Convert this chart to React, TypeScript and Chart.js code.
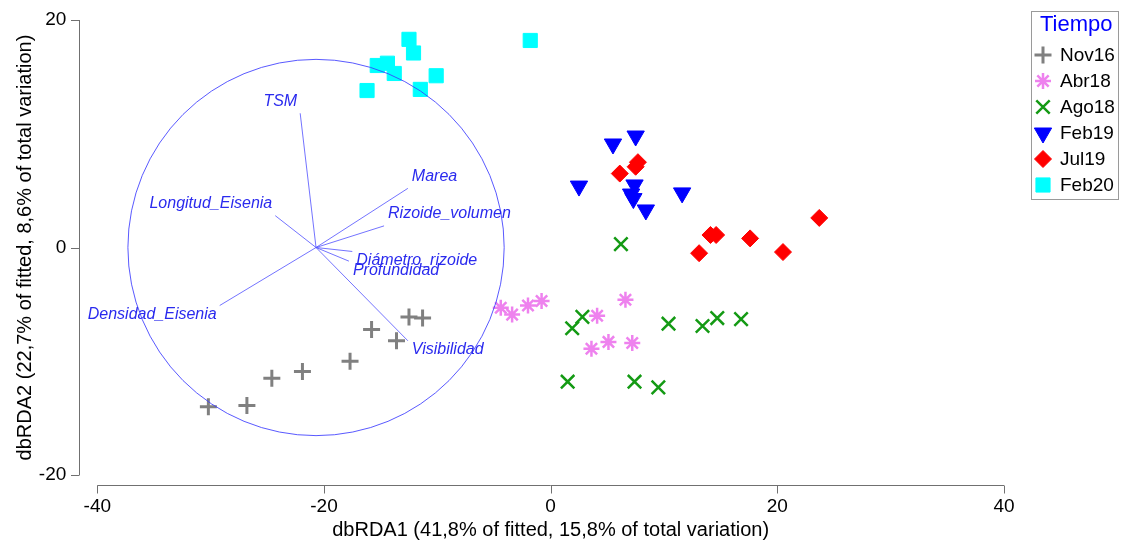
import React, { useEffect, useRef } from 'react';
import { Chart, registerables } from 'chart.js';
import { drawPoint } from 'chart.js/helpers';

Chart.register(...registerables);

// ---- Data ----
const groups = ['Nov16', 'Abr18', 'Ago18', 'Feb19', 'Jul19', 'Feb20'];

const nov16X = [-30.2, -26.8, -24.6, -21.9, -17.7, -15.8, -13.6, -12.5, -11.3];
const nov16Y = [-14.0, -13.9, -11.5, -10.9, -10.0, -7.2, -8.2, -6.1, -6.2];

const abr18X = [-4.4, -3.4, -2.0, -0.8, 4.1, 6.6, 3.6, 5.1, 7.2];
const abr18Y = [-5.3, -5.9, -5.1, -4.7, -6.0, -4.6, -8.9, -8.3, -8.4];

const ago18X = [6.2, 1.9, 2.8, 10.4, 13.4, 14.7, 16.8, 1.5, 7.4, 9.5];
const ago18Y = [0.3, -7.1, -6.1, -6.7, -6.9, -6.2, -6.3, -11.8, -11.8, -12.3];

const feb19X = [5.5, 7.5, 2.5, 7.4, 7.1, 7.3, 8.4, 11.6];
const feb19Y = [9.1, 9.8, 5.4, 5.5, 4.7, 4.3, 3.3, 4.8];

const jul19X = [6.1, 7.5, 7.7, 13.1, 14.1, 14.6, 17.6, 20.5, 23.7];
const jul19Y = [6.5, 7.1, 7.5, -0.5, 1.1, 1.1, 0.8, -0.4, 2.6];

const feb20X = [-16.2, -15.3, -14.4, -13.8, -12.5, -12.1, -11.5, -10.1, -1.8];
const feb20Y = [13.8, 16.0, 16.2, 15.3, 18.3, 17.1, 13.9, 15.1, 18.2];

const groupX = [nov16X, abr18X, ago18X, feb19X, jul19X, feb20X];
const groupY = [nov16Y, abr18Y, ago18Y, feb19Y, jul19Y, feb20Y];

const vectorNames = [
  'TSM',
  'Marea',
  'Rizoide_volumen',
  'Longitud_Eisenia',
  'Diámetro_rizoide',
  'Profundidad',
  'Densidad_Eisenia',
  'Visibilidad',
];
const vectorX = [-22.1, -12.6, -14.7, -24.3, -17.5, -17.8, -29.2, -12.6];
const vectorY = [11.8, 5.2, 1.9, 2.8, -0.35, -1.2, -5.1, -8.2];
const vectorOrigin = [-20.7, 0];
const circleRadius = 16.6;

const xTicks = [-40, -20, 0, 20, 40];
const yTicks = [-20, 0, 20];
const xTitle = 'dbRDA1 (41,8% of fitted, 15,8% of total variation)';
const yTitle = 'dbRDA2 (22,7% of fitted, 8,6% of total variation)';
const legendTitle = 'Tiempo';

// ---- Styles ----
const FONT = '"Liberation Sans", Arial, sans-serif';
const groupStyles = [
  { pointStyle: 'cross', color: '#808080', radius: 8.5, borderWidth: 3, rotation: 0 },
  { pointStyle: 'star', color: '#EE82EE', radius: 8, borderWidth: 2.5, rotation: 0 },
  { pointStyle: 'crossRot', color: '#149a14', radius: 9.5, borderWidth: 2.5, rotation: 0 },
  { pointStyle: 'triangle', color: '#0000FF', radius: 10, borderWidth: 1, rotation: 180 },
  { pointStyle: 'rectRot', color: '#FF0000', radius: 8.5, borderWidth: 1, rotation: 0 },
  { pointStyle: 'rect', color: '#00FFFF', radius: 10, borderWidth: 1, rotation: 0 },
];

const axisColor = '#707070';

const axesPlugin = {
  id: 'detachedAxes',
  afterDraw(chart: any) {
    const { ctx, scales } = chart;
    const xs = scales.x;
    const ys = scales.y;
    const axisY = chart.chartArea.bottom + 10.5;
    const axisX = chart.chartArea.left - 17.8;
    ctx.save();
    ctx.strokeStyle = axisColor;
    ctx.lineWidth = 1;
    ctx.beginPath();
    ctx.moveTo(xs.getPixelForValue(xTicks[0]), axisY);
    ctx.lineTo(xs.getPixelForValue(xTicks[xTicks.length - 1]), axisY);
    xTicks.forEach((v) => {
      const px = Math.round(xs.getPixelForValue(v)) + 0.5;
      ctx.moveTo(px, axisY);
      ctx.lineTo(px, axisY + 8);
    });
    ctx.moveTo(axisX, ys.getPixelForValue(yTicks[0]));
    ctx.lineTo(axisX, ys.getPixelForValue(yTicks[yTicks.length - 1]));
    yTicks.forEach((v) => {
      const py = Math.round(ys.getPixelForValue(v)) + 0.5;
      ctx.moveTo(axisX, py);
      ctx.lineTo(axisX - 8.5, py);
    });
    ctx.stroke();
    ctx.restore();
  },
};

const biplotPlugin = {
  id: 'biplot',
  afterDatasetsDraw(chart: any) {
    const { ctx, scales } = chart;
    const xs = scales.x;
    const ys = scales.y;
    const ox = xs.getPixelForValue(vectorOrigin[0]);
    const oy = ys.getPixelForValue(vectorOrigin[1]);
    const r = xs.getPixelForValue(vectorOrigin[0] + circleRadius) - ox;
    ctx.save();
    ctx.strokeStyle = 'rgba(60,60,255,0.85)';
    ctx.lineWidth = 1;
    ctx.beginPath();
    ctx.arc(ox, oy, r, 0, Math.PI * 2);
    ctx.stroke();

    ctx.strokeStyle = 'rgba(80,80,255,0.8)';
    vectorNames.forEach((_, i) => {
      const ex = xs.getPixelForValue(vectorX[i]);
      const ey = ys.getPixelForValue(vectorY[i]);
      ctx.beginPath();
      ctx.moveTo(ox, oy);
      ctx.lineTo(ex, ey);
      ctx.stroke();
    });

    ctx.fillStyle = '#2a2aee';
    ctx.font = `italic 16px ${FONT}`;
    ctx.textBaseline = 'middle';
    vectorNames.forEach((name, i) => {
      const ex = xs.getPixelForValue(vectorX[i]);
      const ey = ys.getPixelForValue(vectorY[i]);
      const dx = vectorX[i] - vectorOrigin[0];
      const dy = vectorY[i] - vectorOrigin[1];
      ctx.textAlign = dx < 0 ? 'right' : 'left';
      const tx = ex + (dx < 0 ? -3 : 4);
      const ty = ey + (dy > 0 ? -12 : 9);
      ctx.fillText(name, tx, ty);
    });
    ctx.restore();
  },
};

const legendPlugin = {
  id: 'legendBox',
  afterDraw(chart: any) {
    const { ctx } = chart;
    const left = 1031.5;
    const top = 11.5;
    const w = 87;
    const h = 188;
    ctx.save();
    ctx.strokeStyle = '#9a9a9a';
    ctx.lineWidth = 1;
    ctx.strokeRect(left, top, w, h);
    ctx.fillStyle = '#0000FF';
    ctx.font = `22px ${FONT}`;
    ctx.textAlign = 'left';
    ctx.textBaseline = 'middle';
    ctx.fillText(legendTitle, 1040, 25);
    groups.forEach((g, i) => {
      const y = 55 + i * 26;
      const st = groupStyles[i];
      ctx.fillStyle = st.color;
      ctx.strokeStyle = st.color;
      ctx.lineWidth = st.borderWidth;
      drawPoint(ctx, { pointStyle: st.pointStyle, radius: st.radius, rotation: st.rotation, borderWidth: st.borderWidth } as any, 1043, y);
      ctx.fillStyle = '#000000';
      ctx.font = `19px ${FONT}`;
      ctx.textAlign = 'left';
      ctx.textBaseline = 'middle';
      ctx.fillText(g, 1060, y + 1);
    });
    ctx.restore();
  },
};

export default function App() {
  const canvasRef = useRef<HTMLCanvasElement | null>(null);

  useEffect(() => {
    document.body.style.margin = '0';
    const canvas = canvasRef.current;
    if (!canvas) return;
    const chart = new Chart(canvas, {
      type: 'scatter',
      data: {
        datasets: groups.map((g, i) => ({
          label: g,
          data: groupX[i].map((x, j) => ({ x, y: groupY[i][j] })),
          pointStyle: groupStyles[i].pointStyle as any,
          pointRadius: groupStyles[i].radius,
          pointHoverRadius: groupStyles[i].radius,
          pointBorderWidth: groupStyles[i].borderWidth,
          pointRotation: groupStyles[i].rotation,
          backgroundColor: groupStyles[i].color,
          borderColor: groupStyles[i].color,
        })),
      },
      options: {
        animation: false,
        responsive: false,
        devicePixelRatio: 1,
        layout: { padding: { left: 0, top: 20, right: 121, bottom: 0 } },
        plugins: {
          legend: { display: false },
          tooltip: { enabled: false },
        },
        scales: {
          x: {
            type: 'linear',
            min: -40,
            max: 40,
            grid: { display: false, drawTicks: false },
            border: { display: false },
            afterBuildTicks: (s: any) => {
              s.ticks = xTicks.map((v) => ({ value: v }));
            },
            afterFit: (s: any) => {
              s.height = 72;
              s.paddingLeft = 0;
              s.paddingRight = 0;
            },
            ticks: {
              padding: 20,
              autoSkip: false,
              maxRotation: 0,
              color: '#000000',
              font: { family: FONT, size: 19 },
            },
            title: {
              display: true,
              text: xTitle,
              color: '#000000',
              font: { family: FONT, size: 20 },
              padding: { top: 0, bottom: 5 },
            },
          },
          y: {
            type: 'linear',
            min: -20,
            max: 20,
            grid: { display: false, drawTicks: false },
            border: { display: false },
            afterBuildTicks: (s: any) => {
              s.ticks = yTicks.map((v) => ({ value: v }));
            },
            afterFit: (s: any) => {
              s.width = 97.3;
              s.paddingTop = 0;
              s.paddingBottom = 0;
            },
            ticks: {
              padding: 31,
              autoSkip: false,
              color: '#000000',
              font: { family: FONT, size: 19 },
            },
            title: {
              display: true,
              text: yTitle,
              color: '#000000',
              font: { family: FONT, size: 20 },
              padding: { top: 13, bottom: 0 },
            },
          },
        },
      } as any,
      plugins: [axesPlugin, biplotPlugin, legendPlugin],
    });
    return () => {
      chart.destroy();
    };
  }, []);

  return (
    <div style={{ width: 1125, height: 547 }}>
      <canvas ref={canvasRef} width={1125} height={547} style={{ display: 'block' }} />
    </div>
  );
}
